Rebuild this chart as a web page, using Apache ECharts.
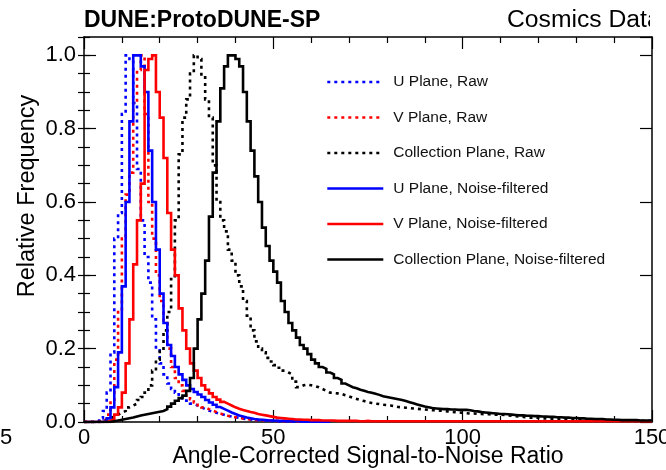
<!DOCTYPE html>
<html><head><meta charset="utf-8">
<script src="https://cdn.jsdelivr.net/npm/echarts@6/dist/echarts.min.js"></script>
<style>html,body{margin:0;padding:0;background:#fff}#c{width:666px;height:470px}</style>
</head><body><div id="c"></div>
<script>
// Histogram bins: bin i covers [i*binWidth, (i+1)*binWidth]
const binWidth = 1;
const seriesNames = ['U Plane, Raw', 'V Plane, Raw', 'Collection Plane, Raw',
  'U Plane, Noise-filtered', 'V Plane, Noise-filtered', 'Collection Plane, Noise-filtered'];
const xTickLabels = ['0', '50', '100', '150'];
const yTickLabels = ['0.0', '0.2', '0.4', '0.6', '0.8', '1.0'];

const uRaw = [
  0, 0, 0, 0.003, 0.01, 0.03, 0.08, 0.19, 0.5, 0.57,
  0.84, 1.0, 0.99, 0.87, 0.69, 0.55, 0.45, 0.38, 0.28, 0.2,
  0.16, 0.13, 0.105, 0.09, 0.08, 0.07, 0.064, 0.058, 0.05, 0.045,
  0.04, 0.035, 0.031, 0.028, 0.025, 0.022, 0.02, 0.017, 0.015, 0.013,
  0.011, 0.009, 0.008, 0.007, 0.006, 0.005, 0.004, 0.004, 0.003, 0.003,
  0.002, 0.002, 0.002, 0.002, 0.001, 0.001, 0.001, 0.001, 0.001, 0.001
];
const vRaw = [
  0, 0, 0, 0, 0.003, 0.008, 0.02, 0.06, 0.17, 0.3,
  0.5, 0.62, 0.68, 0.87, 0.96, 1.0, 0.84, 0.6, 0.5, 0.4,
  0.33, 0.27, 0.2, 0.15, 0.12, 0.1, 0.085, 0.072, 0.062, 0.053,
  0.046, 0.04, 0.035, 0.031, 0.027, 0.023, 0.02, 0.017, 0.015, 0.013,
  0.011, 0.01, 0.008, 0.007, 0.006, 0.005, 0.005, 0.004, 0.004, 0.003,
  0.003, 0.003, 0.002, 0.002, 0.002, 0.002, 0.001, 0.001, 0.001, 0.001
];
const cRaw = [
  0, 0, 0, 0, 0.002, 0.005, 0.01, 0.015, 0.02, 0.025,
  0.03, 0.04, 0.045, 0.05, 0.06, 0.068, 0.08, 0.1, 0.14, 0.17,
  0.2, 0.25, 0.3, 0.39, 0.55, 0.73, 0.83, 0.88, 0.95, 1.0,
  0.99, 0.94, 0.88, 0.83, 0.7, 0.6, 0.55, 0.52, 0.47, 0.44,
  0.4, 0.37, 0.33, 0.29, 0.25, 0.22, 0.2, 0.19, 0.175, 0.165,
  0.155, 0.148, 0.14, 0.135, 0.13, 0.11, 0.095, 0.1, 0.102, 0.1,
  0.098, 0.095, 0.09, 0.085, 0.08, 0.079, 0.078, 0.077, 0.073, 0.07,
  0.066, 0.063, 0.06, 0.057, 0.054, 0.052, 0.05, 0.049, 0.047, 0.046,
  0.045, 0.043, 0.041, 0.04, 0.039, 0.038, 0.037, 0.036, 0.035, 0.034,
  0.033, 0.032, 0.032, 0.031, 0.03, 0.029, 0.028, 0.027, 0.026, 0.025,
  0.024, 0.023, 0.023, 0.022, 0.022, 0.021, 0.021, 0.02, 0.02, 0.02,
  0.019, 0.018, 0.017, 0.016, 0.015, 0.014, 0.013, 0.012, 0.012, 0.011,
  0.01, 0.01, 0.009, 0.009, 0.008, 0.008, 0.007, 0.007, 0.007, 0.006,
  0.006, 0.005, 0.005, 0.005, 0.005, 0.005, 0.004, 0.004, 0.004, 0.004,
  0.004, 0.003, 0.003, 0.003, 0.003, 0.003, 0.003, 0.003, 0.003, 0.003
];
const uNF = [
  0, 0, 0, 0, 0, 0.003, 0.01, 0.04, 0.095, 0.19,
  0.37, 0.6, 0.82, 1.0, 1.0, 0.97, 0.9, 0.74, 0.6, 0.47,
  0.35, 0.27, 0.21, 0.18, 0.15, 0.13, 0.115, 0.1, 0.09, 0.082,
  0.075, 0.068, 0.06, 0.053, 0.047, 0.041, 0.036, 0.031, 0.026, 0.022,
  0.018, 0.015, 0.012, 0.01, 0.008, 0.007, 0.006, 0.005, 0.004, 0.004,
  0.003, 0.003, 0.003, 0.002, 0.002, 0.002, 0.002, 0.001, 0.001, 0.001,
  0.001, 0.001, 0.001, 0.001, 0.001
];
const vNF = [
  0, 0, 0, 0, 0, 0, 0.003, 0.008, 0.02, 0.04,
  0.08, 0.16, 0.28, 0.43, 0.55, 0.65, 0.96, 0.99, 1.0, 0.9,
  0.83, 0.72, 0.57, 0.47, 0.4, 0.31, 0.25, 0.2, 0.16, 0.14,
  0.12, 0.1, 0.088, 0.078, 0.068, 0.061, 0.055, 0.05, 0.045, 0.04,
  0.036, 0.033, 0.03, 0.027, 0.025, 0.022, 0.02, 0.018, 0.016, 0.014,
  0.012, 0.011, 0.01, 0.009, 0.008, 0.007, 0.007, 0.006, 0.006, 0.005,
  0.005, 0.005, 0.004, 0.004, 0.004, 0.004, 0.003, 0.003, 0.003, 0.003,
  0.003, 0.003, 0.002, 0.002, 0.003, 0.002, 0.002, 0.002, 0.002, 0.002,
  0.002, 0.002, 0.002, 0.002, 0.002, 0.002, 0.002, 0.002, 0.002, 0.002,
  0.002, 0.002, 0.002, 0.002, 0.002, 0.002, 0.002, 0.002, 0.002, 0.002,
  0.002, 0.002, 0.002, 0.002, 0.002, 0.002, 0.002, 0.002, 0.002, 0.002,
  0.002, 0.002, 0.002, 0.002, 0.002, 0.002, 0.002, 0.002, 0.002, 0.002,
  0.002, 0.002, 0.002, 0.002, 0.002, 0.002, 0.002, 0.002, 0.002, 0.002,
  0.002, 0.002, 0.002, 0.002, 0.002, 0.002, 0.002, 0.002, 0.002, 0.002,
  0.002, 0.002, 0.002, 0.002, 0.002, 0.002, 0.002, 0.002, 0.002, 0.002
];
const cNF = [
  0, 0, 0, 0, 0, 0, 0, 0.002, 0.004, 0.006,
  0.008, 0.01, 0.012, 0.015, 0.018, 0.02, 0.022, 0.024, 0.026, 0.028,
  0.03, 0.035, 0.042, 0.05, 0.058, 0.065, 0.072, 0.085, 0.12, 0.2,
  0.28, 0.35, 0.44, 0.56, 0.68, 0.82, 0.91, 0.97, 1.0, 1.0,
  0.99, 0.97, 0.9, 0.82, 0.74, 0.67, 0.6, 0.53, 0.48, 0.44,
  0.41, 0.38, 0.33, 0.3, 0.27, 0.25, 0.23, 0.21, 0.2, 0.185,
  0.17, 0.16, 0.15, 0.145, 0.135, 0.13, 0.12, 0.115, 0.105, 0.1,
  0.095, 0.092, 0.088, 0.085, 0.082, 0.08, 0.077, 0.074, 0.07, 0.068,
  0.066, 0.064, 0.062, 0.06, 0.057, 0.054, 0.051, 0.048, 0.045, 0.042,
  0.04, 0.038, 0.037, 0.036, 0.035, 0.035, 0.034, 0.034, 0.033, 0.033,
  0.033, 0.032, 0.03, 0.029, 0.027, 0.026, 0.025, 0.024, 0.023, 0.022,
  0.022, 0.021, 0.02, 0.019, 0.018, 0.018, 0.017, 0.017, 0.016, 0.016,
  0.015, 0.015, 0.014, 0.014, 0.013, 0.013, 0.012, 0.012, 0.011, 0.011,
  0.01, 0.01, 0.009, 0.009, 0.008, 0.008, 0.008, 0.007, 0.007, 0.006,
  0.006, 0.005, 0.005, 0.005, 0.005, 0.005, 0.004, 0.004, 0.004, 0.004
];

const FONT = 'Liberation Sans, Arial, Helvetica, sans-serif';
const BLUE = '#0000ff', RED = '#ff0000', BLACK = '#000000';

function histPoints(vals) {
  const pts = vals.map((v, i) => [i * binWidth, v]);
  pts.push([vals.length * binWidth, vals[vals.length - 1]]);
  return pts;
}
function histSeries(name, vals, color, dotted) {
  return {
    name, type: 'line', step: 'end', symbol: 'none', xAxisIndex: 0, yAxisIndex: 0,
    data: histPoints(vals), animation: false,
    lineStyle: { color, width: 2.6, type: dotted ? [3, 4] : 'solid', cap: 'butt', join: 'miter' },
    itemStyle: { color }
  };
}

const axisLineStyle = { color: '#000', width: 1.5 };
const tickStyle = { color: '#000', width: 1.2 };
const yLabelFmt = v => {
  const k = Math.round(v / 0.2);
  return Math.abs(v - k * 0.2) < 1e-6 && yTickLabels[k] !== undefined ? yTickLabels[k] : '';
};
const xLabelFmt = v => {
  const k = Math.round(v / 50);
  return Math.abs(v - k * 50) < 1e-6 && xTickLabels[k] !== undefined ? xTickLabels[k] : '';
};

const chart = echarts.init(document.getElementById('c'), null, { renderer: 'canvas' });
chart.setOption({
  backgroundColor: '#fff',
  animation: false,
  grid: { left: 84, right: 14, top: 37, bottom: 48, containLabel: false, outerBoundsMode: 'none' },
  xAxis: [
    { type: 'value', position: 'bottom', min: 0, max: 150, interval: 50,
      axisLine: { show: true, onZero: false, lineStyle: axisLineStyle },
      axisTick: { show: true, inside: true, length: 12, lineStyle: tickStyle },
      minorTick: { show: true, splitNumber: 5, length: 6, lineStyle: tickStyle },
      splitLine: { show: false }, minorSplitLine: { show: false },
      axisLabel: { show: true, formatter: xLabelFmt, color: '#000', fontSize: 22, fontFamily: FONT, margin: 5, hideOverlap: false } },
    { type: 'value', position: 'top', min: 0, max: 150, interval: 50,
      axisLine: { show: true, onZero: false, lineStyle: axisLineStyle },
      axisTick: { show: true, inside: true, length: 12, lineStyle: tickStyle },
      minorTick: { show: true, splitNumber: 5, length: 6, lineStyle: tickStyle },
      splitLine: { show: false }, axisLabel: { show: false } }
  ],
  yAxis: [
    { type: 'value', position: 'left', min: 0, max: 1.05, interval: 0.2,
      axisLine: { show: true, onZero: false, lineStyle: axisLineStyle },
      axisTick: { show: true, inside: true, length: 12, lineStyle: tickStyle },
      splitLine: { show: false },
      axisLabel: { show: true, formatter: yLabelFmt, color: '#000', fontSize: 22, fontFamily: FONT, margin: 8, showMaxLabel: false } },
    { type: 'value', position: 'left', min: 0, max: 1.05, interval: 0.05,
      axisLine: { show: false }, axisTick: { show: true, inside: true, length: 6, lineStyle: tickStyle },
      splitLine: { show: false }, axisLabel: { show: false } },
    { type: 'value', position: 'right', min: 0, max: 1.05, interval: 0.2,
      axisLine: { show: true, onZero: false, lineStyle: axisLineStyle },
      axisTick: { show: true, inside: true, length: 12, lineStyle: tickStyle },
      splitLine: { show: false }, axisLabel: { show: false } },
    { type: 'value', position: 'right', min: 0, max: 1.05, interval: 0.05,
      axisLine: { show: false }, axisTick: { show: true, inside: true, length: 6, lineStyle: tickStyle },
      splitLine: { show: false }, axisLabel: { show: false } }
  ],
  legend: {
    orient: 'vertical', left: 326, top: 74, padding: 0, itemWidth: 56, itemHeight: 14, itemGap: 19.5,
    selectedMode: false, data: seriesNames,
    textStyle: { color: '#111', fontSize: 15.5, fontFamily: FONT, lineHeight: 16, padding: [0, 0, 0, 5] },
    lineStyle: { width: 2.6 },
    itemStyle: { color: 'rgba(0,0,0,0)', borderColor: 'rgba(0,0,0,0)', borderWidth: 0, opacity: 0 }
  },
  series: [
    histSeries(seriesNames[0], uRaw, BLUE, true),
    histSeries(seriesNames[1], vRaw, RED, true),
    histSeries(seriesNames[2], cRaw, BLACK, true),
    histSeries(seriesNames[3], uNF, BLUE, false),
    histSeries(seriesNames[4], vNF, RED, false),
    histSeries(seriesNames[5], cNF, BLACK, false)
  ],
  graphic: [
    { type: 'text', left: 84, top: 9, style: { text: 'DUNE:ProtoDUNE-SP', font: 'bold 23px ' + FONT, fill: '#000' } },
    { type: 'text', left: 507, top: 8, style: { text: 'Cosmics Data', font: '24.7px ' + FONT, fill: '#000' } },
    { type: 'rect', shape: { x: 650, y: 0, width: 16, height: 27 }, style: { fill: '#fff' }, z: 100 },
    { type: 'text', x: 368, y: 457, style: { text: 'Angle-Corrected Signal-to-Noise Ratio', font: '23px ' + FONT, fill: '#000', align: 'center', verticalAlign: 'middle' } },
    { type: 'text', x: 28, y: 196, rotation: Math.PI / 2, style: { text: 'Relative Frequency', font: '23.5px ' + FONT, fill: '#000', align: 'center', verticalAlign: 'middle' } },
    { type: 'text', x: 0, y: 438, style: { text: '5', font: '22px ' + FONT, fill: '#000', align: 'left', verticalAlign: 'middle' } }
  ]
});
</script></body></html>
